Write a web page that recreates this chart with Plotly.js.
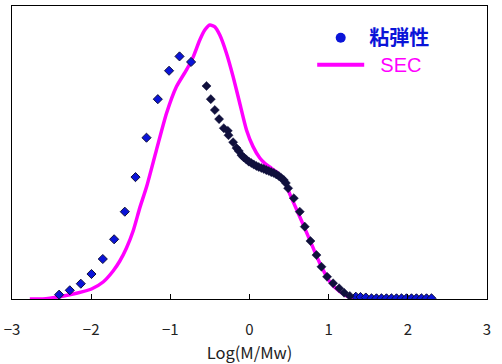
<!DOCTYPE html>
<html>
<head>
<meta charset="utf-8">
<script src="https://cdn.plot.ly/plotly-3.0.1.min.js"></script>
<style>html,body{margin:0;padding:0;background:#fff;}#chart{width:502px;height:364px;}</style>
</head>
<body>
<div id="chart"></div>
<script>
// 粘弾性 (viscoelastic) points, light blue parts (left rise and right tail)
const visLeftX = [-2.405, -2.270, -2.131, -1.996, -1.853, -1.710, -1.575, -1.440, -1.301, -1.158, -1.016, -0.884, -0.738];
const visLeftY = [1.47, 2.97, 5.22, 8.53, 13.65, 20.38, 29.8, 41.6, 55.05, 68.2, 77.9, 82.8, 80.9];
const visTailX = [1.343, 1.402, 1.469, 1.541, 1.604, 1.667, 1.730, 1.793, 1.857, 1.920, 1.983, 2.046, 2.109, 2.172, 2.236, 2.299];
const visTailY = [0.78, 0.68, 0.51, 0.24, 0.24, 0.24, 0.24, 0.24, 0.24, 0.24, 0.24, 0.24, 0.24, 0.24, 0.24, 0.24];
// 粘弾性 points, dark middle part
const visMidX = [-0.543, -0.489, -0.438, -0.384, -0.325, -0.274, -0.265, -0.207, -0.164, -0.135, -0.101, -0.072, -0.040, -0.009,
  0.023, 0.054, 0.086, 0.117, 0.149, 0.181, 0.212, 0.244, 0.275, 0.307, 0.339, 0.370, 0.402, 0.433, 0.459, 0.488,
  0.560, 0.635, 0.698, 0.770, 0.846, 0.909, 0.980, 1.056, 1.132, 1.195, 1.267];
const visMidY = [72.7, 68.2, 64.5, 61.4, 58.3, 57.4, 55.9, 53.5, 51.5, 50.5, 49.1, 48.3, 47.6, 46.9,
  46.4, 45.9, 45.4, 45.05, 44.7, 44.4, 44.0, 43.7, 43.3, 43.0, 42.5, 42.0, 41.3, 40.6, 39.6, 37.8,
  34.4, 29.8, 24.7, 19.8, 15.0, 11.0, 7.6, 5.36, 3.65, 2.15, 1.02];
// SEC curve
const secX = [-2.775, -2.611, -2.396, -2.185, -1.996, -1.849, -1.723, -1.638, -1.554, -1.470, -1.386, -1.301, -1.175, -1.048,
  -0.922, -0.796, -0.716, -0.628, -0.565, -0.501, -0.438, -0.375, -0.291, -0.207, -0.123, -0.038, 0.045, 0.130, 0.193,
  0.278, 0.361, 0.446, 0.509, 0.635, 0.762, 0.888, 1.014, 1.141, 1.267, 1.393];
const secY = [0, 0, 0.78, 1.95, 3.41, 5.80, 9.56, 12.97, 17.4, 23.2, 31.1, 38.2, 50.9, 63.4,
  72.5, 78.2, 82.3, 88.4, 91.8, 93.5, 92.9, 90.1, 83.9, 75.9, 66.8, 57.7, 52.0, 48.1, 46.3,
  44.6, 42.9, 40.0, 35.8, 28.1, 20.1, 12.2, 5.9, 2.5, 0.58, 0];
const xTicks = [-3, -2, -1, 0, 1, 2, 3];
const names = {vis: '粘弾性', sec: 'SEC', xTitle: 'Log(M/Mw)'};

const blue = '#0a14d8', navy = '#10103c', magenta = '#ff00ff';
const diamond = {symbol: 'diamond', size: 7, color: blue, line: {color: navy, width: 1}};
const traces = [
  {x: secX, y: secY, mode: 'lines', line: {color: magenta, width: 3.5, shape: 'spline', smoothing: 0.6},
   showlegend: false, hoverinfo: 'skip'},
  {x: visLeftX, y: visLeftY, mode: 'markers', marker: diamond, showlegend: false},
  {x: visTailX, y: visTailY, mode: 'markers', marker: diamond, showlegend: false},
  {x: visMidX, y: visMidY, mode: 'markers', marker: {symbol: 'diamond', size: 7, color: navy, line: {color: navy, width: 0.5}}, showlegend: false},
  // legend entries
  {x: [null], y: [null], mode: 'markers',
   name: '<b><span style="color:' + blue + ';font-size:20px">' + names.vis + '</span></b>',
   marker: {symbol: 'circle', size: 10, color: blue}},
  {x: [null], y: [null], mode: 'lines',
   name: '<span style="color:' + magenta + ';font-size:20px">&nbsp;&nbsp;' + names.sec + '</span>',
   line: {color: magenta, width: 4}}
];
const font = 'Noto Sans CJK JP, sans-serif';
const layout = {
  width: 502, height: 364,
  margin: {l: 12, r: 15, t: 6, b: 65},
  paper_bgcolor: '#fff', plot_bgcolor: '#fff',
  showlegend: true,
  legend: {x: 0.632, y: 0.955, xanchor: 'left', yanchor: 'top', bgcolor: 'rgba(0,0,0,0)',
    font: {family: 'Liberation Sans, Noto Sans CJK JP, sans-serif', size: 18.5}, itemwidth: 47, tracegroupgap: 0},
  xaxis: {range: [-3, 3], tickvals: xTicks, ticks: 'inside', ticklen: 5, tickcolor: '#000',
    showline: true, linecolor: '#000', linewidth: 1, mirror: true, showgrid: false, zeroline: false,
    ticklabelstandoff: 17,
    tickfont: {family: font, size: 15, color: '#222'},
    title: {text: names.xTitle, font: {family: font, size: 16.5, color: '#222'}, standoff: 14}},
  yaxis: {range: [0, 100], showticklabels: false, ticks: '', showline: true, linecolor: '#000', linewidth: 1,
    mirror: true, showgrid: false, zeroline: false},
  hovermode: false
};
Plotly.newPlot('chart', traces, layout, {staticPlot: true});
</script>
</body>
</html>
